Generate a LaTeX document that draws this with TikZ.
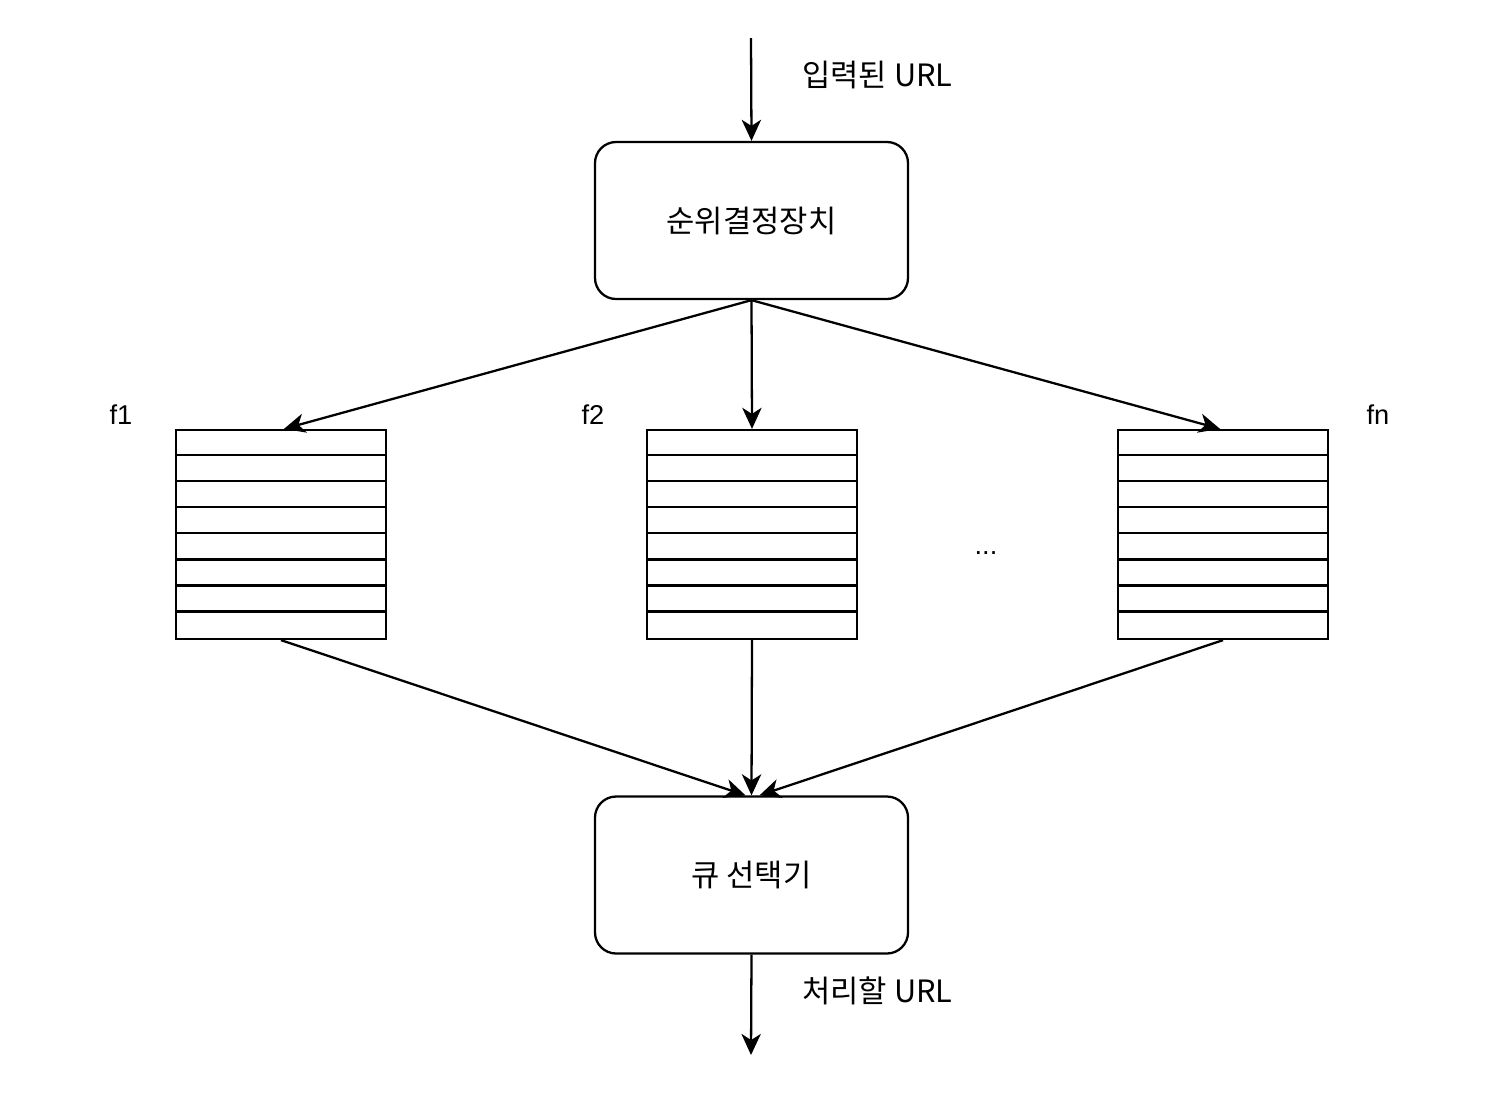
\documentclass[tikz,border=0pt]{standalone}
\usepackage{fontspec}
\setmainfont{Liberation Sans}
\newfontfamily\kr{Noto Sans CJK KR}
\usetikzlibrary{arrows.meta}
\begin{document}
\begin{tikzpicture}[x=0.02cm,y=-0.02cm,
  ln/.style={line width=1.3pt},
  arr/.style={ln,-{Stealth[length=12pt,width=11pt,inset=3.5pt]}},
  rbox/.style={draw,line width=1.3pt,rounded corners=12pt,minimum width=313*0.02cm,minimum height=157*0.02cm,inner sep=0pt,font=\kr\fontsize{17.5}{20}\selectfont},
  qbox/.style={draw,line width=1.3pt,minimum width=210*0.02cm,minimum height=209*0.02cm,inner sep=0pt},
  lbl/.style={font=\kr\fontsize{17.5}{20}\selectfont,inner sep=0pt},
  flbl/.style={font=\fontsize{15.5}{18}\selectfont,inner sep=0pt}]
\useasboundingbox (0,0) rectangle (1504,1100);
\coordinate (in) at (751,38);
\coordinate (out) at (751,1055);
\node[rbox] (rank) at (751.5,220.5) {순위결정장치};
\node[rbox] (sel) at (751.5,875) {큐 선택기};
\node[lbl,anchor=west] (inlbl) at (802,75) {입력된 URL};
\node[lbl,anchor=west] (outlbl) at (802,991) {처리할 URL};
\foreach \n/\x in {q1/281,q2/752,q3/1223}{
  \node[qbox] (\n) at (\x,534.5) {};
  \foreach \i in {1,...,7}{
    \draw[ln] ([yshift=-\i*26.1*0.02cm]\n.north west) -- ([yshift=-\i*26.1*0.02cm]\n.north east);
  }
}
\node[flbl] (f1) at (121,415) {f1};
\node[flbl] (f2) at (593,415) {f2};
\node[flbl] (fn) at (1378,415) {fn};
\node[flbl] (dots) at (986,553) {...};
\draw[arr] (in) -- (rank.north);
\draw[arr] (rank.south) -- ([xshift=3*0.02cm]q1.north);
\draw[arr] (rank.south) -- (q2.north);
\draw[arr] (rank.south) -- ([xshift=-3*0.02cm]q3.north);
\draw[arr] (q1.south) -- ([xshift=-6*0.02cm]sel.north);
\draw[arr] (q2.south) -- (sel.north);
\draw[arr] (q3.south) -- ([xshift=8*0.02cm]sel.north);
\draw[arr] (sel.south) -- (out);
\end{tikzpicture}
\end{document}
